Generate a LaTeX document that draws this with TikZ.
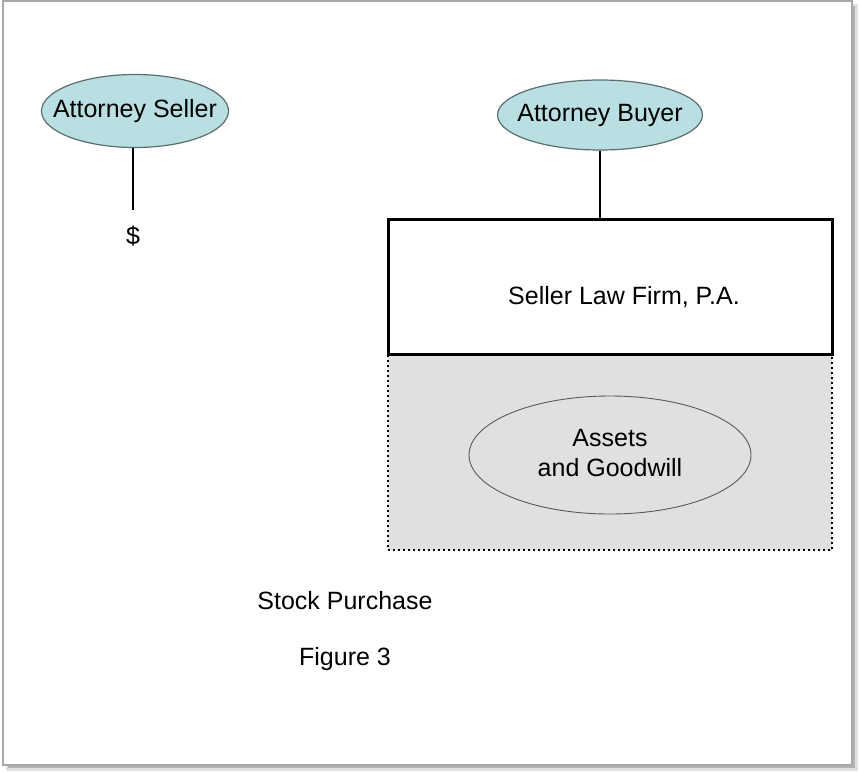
\documentclass[tikz,border=0pt]{standalone}
\usepackage{fontspec}
\setmainfont{Liberation Sans}
\usetikzlibrary{shapes.geometric}
\definecolor{attfill}{HTML}{B9DFE2}
\definecolor{attline}{HTML}{5A6E70}
\definecolor{assetfill}{HTML}{E0E0E0}
\definecolor{framegray}{HTML}{A8A8A8}
\newcommand{\zw}[1]{\makebox[0pt]{#1}}
\tikzset{
  attorney/.style={ellipse, draw=attline, line width=1.2pt, fill=attfill, inner sep=0pt, font=\fontsize{25}{29}\selectfont},
  label/.style={inner sep=0pt, font=\fontsize{25}{29}\selectfont},
  link/.style={line width=1.8pt, black},
}
\begin{document}
\begin{tikzpicture}[x=1pt,y=-1pt]
\useasboundingbox (0,0) rectangle (859,771);
\fill[white] (0,0) rectangle (859,771);
% frame shadow
\fill[gray!25] (6,4) rectangle (858,771);
\fill[gray!60] (8,6) rectangle (855,768);
\fill[white, draw=framegray, line width=1.5pt] (3,1) rectangle (852,765);
% attorney seller
\node[attorney, minimum width=187pt, minimum height=73pt] (seller) at (135,111) {\raisebox{-2pt}{\zw{Attorney Seller}}};
\coordinate (sellerend) at (133,210);
\draw[link] (seller.south -| sellerend) -- (sellerend);
\node[label] (dollar) at (133,236) {\$};
% attorney buyer
\node[attorney, minimum width=205pt, minimum height=70pt] (buyer) at (600,115) {\raisebox{-1pt}{\zw{Attorney Buyer}}};
% assets region
\node[draw=black, dash pattern=on 2.4pt off 2.6pt, line width=2.6pt, fill=assetfill, minimum width=444pt, minimum height=196pt, inner sep=0pt] (region) at (610,452) {};
\node[ellipse, draw=gray!70!black, line width=0.9pt, fill=assetfill, minimum width=282pt, minimum height=118pt, inner sep=0pt, font=\fontsize{25}{30}\selectfont] (assets) at (610,455) {\zw{\begin{tabular}{@{}c@{}}Assets\\[0pt]and Goodwill\end{tabular}}};
% firm
\node[draw=black, line width=3pt, fill=white, minimum width=444pt, minimum height=135pt, inner sep=0pt] (firm) at (610,286.5) {};
\node[label] (firmtext) at (624,297) {Seller Law Firm, P.A.};
\draw[link] (buyer.south) -- (buyer.south |- firm.north);
% captions
\node[label] (stock) at (345,601) {Stock Purchase};
\node[label] (figure) at (345,659) {Figure 3};
\end{tikzpicture}
\end{document}
